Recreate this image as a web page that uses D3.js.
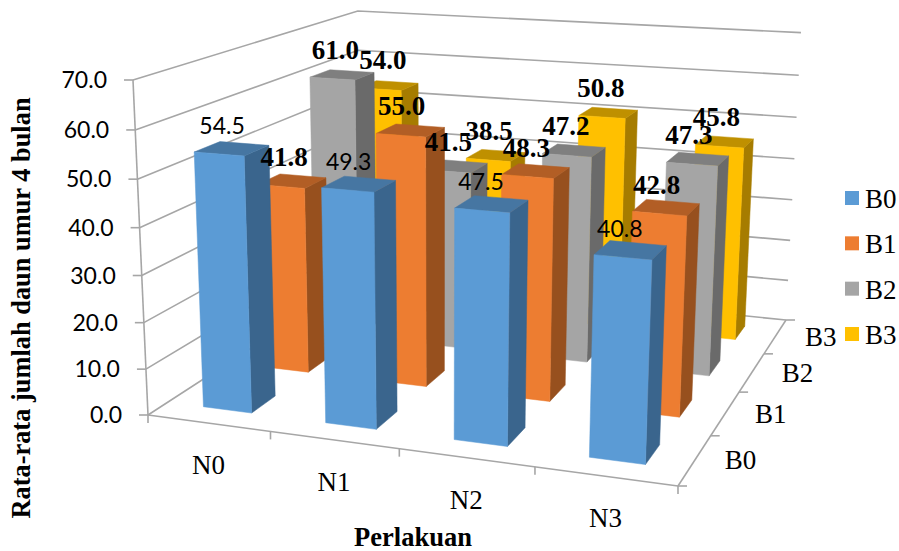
<!DOCTYPE html>
<html>
<head>
<meta charset="utf-8">
<script src="https://cdn.jsdelivr.net/npm/d3@7/dist/d3.min.js"></script>
<style>
  html, body { margin: 0; padding: 0; background: #fff; }
  svg { display: block; }
  .sans { font-family: Lato, "Open Sans", sans-serif; fill: #000; }
  .serif { font-family: "Liberation Serif", serif; fill: #000; }
</style>
</head>
<body>
<svg id="chart" width="899" height="551"></svg>
<script>
// Categories along the width and depth of the 3D column chart
const treatments = ["N0", "N1", "N2", "N3"];
const seriesNames = ["B0", "B1", "B2", "B3"];

// Mean leaf count per series, one value for each treatment
const valuesB0 = [54.5, 49.3, 47.5, 40.8];
const valuesB1 = [41.8, 55.0, 48.3, 42.8];
const valuesB2 = [61.0, 41.5, 47.2, 47.3];
const valuesB3 = [54.0, 38.5, 50.8, 45.8];

const seriesValues = [valuesB0, valuesB1, valuesB2, valuesB3];
const valueTicks = [0, 10, 20, 30, 40, 50, 60, 70];
const tickFormat = d3.format(".1f");

// Face colours per series: front, side, top
const faceFront = ["#5B9BD5", "#ED7D31", "#A5A5A5", "#FFC000"];
const faceSide = ["#3A658D", "#97501E", "#6A6A6A", "#A67C00"];
const faceTop = ["#4676A2", "#B25E25", "#7F7F7F", "#BF9000"];
const gridColor = "#A6A6A6";

// Floor quad in page space: near-left, near-right, far-right, far-left
const floor = [[148, 415], [678, 486], [786, 320], [361, 277]];
// Vanishing point of vertical edges, and the height scale it implies
const vanish = [441, 6953];
const wallTopY = 80;

const [[x0, y0], [x1, y1], [x2, y2], [x3, y3]] = floor;
const dx1 = x1 - x2, dx2 = x3 - x2, sx = x0 - x1 + x2 - x3;
const dy1 = y1 - y2, dy2 = y3 - y2, sy = y0 - y1 + y2 - y3;
const det = dx1 * dy2 - dx2 * dy1;
const g = (sx * dy2 - dx2 * sy) / det;
const h = (dx1 * sy - sx * dy1) / det;
const a = x1 - x0 + g * x1, b = x3 - x0 + h * x3;
const d = y1 - y0 + g * y1, e = y3 - y0 + h * y3;
const k = -(y0 - wallTopY) / (vanish[1] - wallTopY);

// Perspective map from unit chart space (width, depth, height) to the page
function project(u, v, w) {
  const q = g * u + h * v + 1 + k * w;
  return [
    (a * u + b * v + x0 + k * w * vanish[0]) / q,
    (d * u + e * v + y0 + k * w * vanish[1]) / q
  ];
}

const widthScale = d3.scaleBand().domain(treatments).range([0, 1]).paddingInner(0.6).paddingOuter(0.3);
const depthScale = d3.scaleBand().domain(seriesNames).range([0, 1]).paddingInner(0.6).paddingOuter(0.3);
const heightScale = d3.scaleLinear().domain([0, 70]).range([0, 1]);
const labelDrift = d3.scaleLinear().domain([0, 1]).range([4, -4]);
const stepU = widthScale.step(), stepV = depthScale.step();

const svg = d3.select("#chart");
const poly = d3.line();
const walls = svg.append("g").attr("stroke", gridColor).attr("stroke-width", 1.6).attr("fill", "none");

function segment(p, q) {
  walls.append("path").attr("d", poly([p, q]));
}

// Wall gridlines: left wall runs into the depth, back wall runs across
valueTicks.forEach(t => {
  const w = heightScale(t);
  walls.append("path").attr("d", poly([project(0, 0, w), project(0, 1, w), project(1, 1, w)]));
  const p = project(0, 0, w);
  segment(p, [p[0] - 9, p[1]]);
});

// Vertical axis and floor edges
segment(project(0, 0, 0), project(0, 0, 1));
segment(project(0, 0, 0), project(1, 0, 0));
segment(project(1, 0, 0), project(1, 1, 0));

// Tick marks under the width axis and beside the depth axis
d3.range(0, 5).forEach(i => {
  const p = project(i * stepU, 0, 0);
  segment(p, [p[0], p[1] + 8]);
  const r = project(1, i * stepV, 0);
  segment(r, [r[0] + 9, r[1]]);
});

// Columns, painted from the far series to the near one
const bars = svg.append("g");
d3.range(seriesNames.length - 1, -1, -1).forEach(si => {
  const v0 = depthScale(seriesNames[si]);
  const v1 = v0 + depthScale.bandwidth();
  treatments.forEach((name, ni) => {
    const u0 = widthScale(name);
    const u1 = u0 + widthScale.bandwidth();
    const w = heightScale(seriesValues[si][ni]);
    const group = bars.append("g").attr("class", "bar");
    const face = (pts, fill) => group.append("path")
      .attr("d", poly(pts) + "Z").attr("fill", fill).attr("stroke", fill).attr("stroke-width", 0.5);
    face([project(u1, v0, 0), project(u1, v1, 0), project(u1, v1, w), project(u1, v0, w)], faceSide[si]);
    face([project(u0, v0, w), project(u1, v0, w), project(u1, v1, w), project(u0, v1, w)], faceTop[si]);
    face([project(u0, v0, 0), project(u1, v0, 0), project(u1, v0, w), project(u0, v0, w)], faceFront[si]);
  });
});

// Value labels sit above the front top edge of each column
const labels = svg.append("g");
seriesNames.forEach((s, si) => {
  const v0 = depthScale(s);
  treatments.forEach((name, ni) => {
    const value = seriesValues[si][ni];
    const uc = widthScale(name) + widthScale.bandwidth() / 2;
    const p = project(uc, v0, heightScale(value));
    labels.append("text")
      .attr("class", si === 0 ? "sans" : "serif")
      .attr("x", p[0] + labelDrift(uc)).attr("y", p[1] - 20)
      .attr("text-anchor", "middle")
      .attr("font-size", si === 0 ? 23 : 27)
      .attr("font-weight", si === 0 ? 400 : 700)
      .text(tickFormat(value));
  });
});

// Value axis labels
valueTicks.forEach(t => {
  const p = project(0, 0, heightScale(t));
  svg.append("text").attr("class", "sans")
    .attr("x", p[0] - 26).attr("y", p[1] + 8)
    .attr("text-anchor", "end").attr("font-size", 23)
    .text(tickFormat(t));
});

// Treatment labels below the near edge of the floor
treatments.forEach((name, i) => {
  const p = project((i + 0.5) * stepU, 0, 0);
  svg.append("text").attr("class", "serif")
    .attr("x", p[0]).attr("y", p[1] + 51)
    .attr("text-anchor", "middle").attr("font-size", 27)
    .text(name);
});

// Series labels to the right of the depth edge
seriesNames.forEach((name, i) => {
  const p = project(1, (i + 0.5) * stepV, 0);
  svg.append("text").attr("class", "serif")
    .attr("x", p[0] + 45.5).attr("y", p[1] + 9.5)
    .attr("text-anchor", "middle").attr("font-size", 27)
    .text(name);
});

// Legend
const legendY = d3.scalePoint().domain(seriesNames).range([191, 327]);
seriesNames.forEach((name, i) => {
  svg.append("rect").attr("x", 845).attr("y", legendY(name)).attr("width", 14).attr("height", 14).attr("fill", faceFront[i]);
  svg.append("text").attr("class", "serif")
    .attr("x", 865).attr("y", legendY(name) + 17).attr("font-size", 27).text(name);
});

// Axis titles
svg.append("text").attr("class", "serif")
  .attr("x", 413).attr("y", 546).attr("text-anchor", "middle")
  .attr("font-size", 26.5).attr("font-weight", 700).text("Perlakuan");
svg.append("text").attr("class", "serif")
  .attr("transform", "translate(30,308) rotate(-90)").attr("text-anchor", "middle")
  .attr("font-size", 26.4).attr("font-weight", 700).text("Rata-rata jumlah daun umur 4 bulan");
</script>
</body>
</html>
